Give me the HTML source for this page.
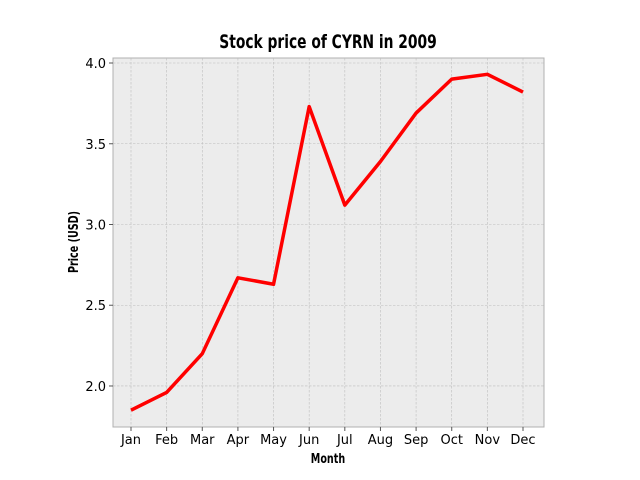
<!DOCTYPE html>
<html><head><meta charset="utf-8"><style>
body{margin:0;background:#fff;}
svg{display:block;font-family:"DejaVu Sans","Liberation Sans",sans-serif;}
.imp{font-family:"Liberation Sans Narrow","DejaVu Sans Condensed","Liberation Sans",sans-serif;font-weight:bold;font-stretch:condensed;}
</style></head><body>
<svg id="chart" width="640" height="480">
<rect x="113" y="58" width="431" height="369" fill="#ececec" stroke="#b0b0b0" stroke-width="1"/>
<g id="grid"></g><g id="ticks"></g>
<path id="line" fill="none" stroke="#ff0000" stroke-width="3.5" stroke-linejoin="round"/>
<text class="imp" x="328" y="48" text-anchor="middle" font-size="19" transform="translate(328 48) scale(0.81 1) translate(-328 -48)">Stock price of CYRN in 2009</text>
<text class="imp" x="328" y="463" text-anchor="middle" font-size="13" transform="translate(328 463) scale(0.82 1) translate(-328 -463)">Month</text>
<text class="imp" x="0" y="0" text-anchor="middle" font-size="13" transform="translate(78 242) rotate(-90) scale(0.82 1)">Price (USD)</text>
</svg>
<script>
const months=["Jan","Feb","Mar","Apr","May","Jun","Jul","Aug","Sep","Oct","Nov","Dec"];
const prices=[1.85,1.96,2.20,2.67,2.63,3.73,3.12,3.39,3.69,3.90,3.93,3.82];
const yTicks=[2.0,2.5,3.0,3.5,4.0];
const NS="http://www.w3.org/2000/svg";
const X0=113,X1=544,Y0=427,Y1=58,YMIN=1.746,YMAX=4.031;
const xs=i=>131+i*(523-131)/(months.length-1);
const ys=v=>Y0-(v-YMIN)/(YMAX-YMIN)*(Y0-Y1);
const grid=document.getElementById('grid'),ticks=document.getElementById('ticks');
function el(t,a,p){const e=document.createElementNS(NS,t);for(const k in a)e.setAttribute(k,a[k]);p.appendChild(e);return e;}
months.forEach((m,i)=>{
 const x=xs(i);
 const g=el('line',{x1:x,x2:x,y1:Y1,y2:Y0,stroke:'#bdbdbd','stroke-width':0.6,'stroke-dasharray':'2.5,1.5'},grid);
 
 
 const tk=el('line',{x1:x,x2:x,y1:Y0,y2:Y0+4,stroke:'#555'},ticks);
 
 
 const t=el('text',{x:x,y:Y0+17,'text-anchor':'middle','font-size':13},ticks);
 t.textContent=m;
 
 
});
yTicks.forEach(v=>{
 const y=ys(v);
 const g=el('line',{x1:X0,x2:X1,y1:y,y2:y,stroke:'#bdbdbd','stroke-width':0.6,'stroke-dasharray':'2.5,1.5'},grid);
 
 
 const tk=el('line',{x1:X0-4,x2:X0,y1:y,y2:y,stroke:'#555'},ticks);
 
 
 const t=el('text',{x:X0-7,y:y+5,'text-anchor':'end','font-size':13},ticks);
 t.textContent=v.toFixed(1);
 
 
});
document.getElementById('line').setAttribute('d',prices.map((v,i)=>(i?'L':'M')+xs(i)+','+ys(v)).join(' '));
</script>
</body></html>
